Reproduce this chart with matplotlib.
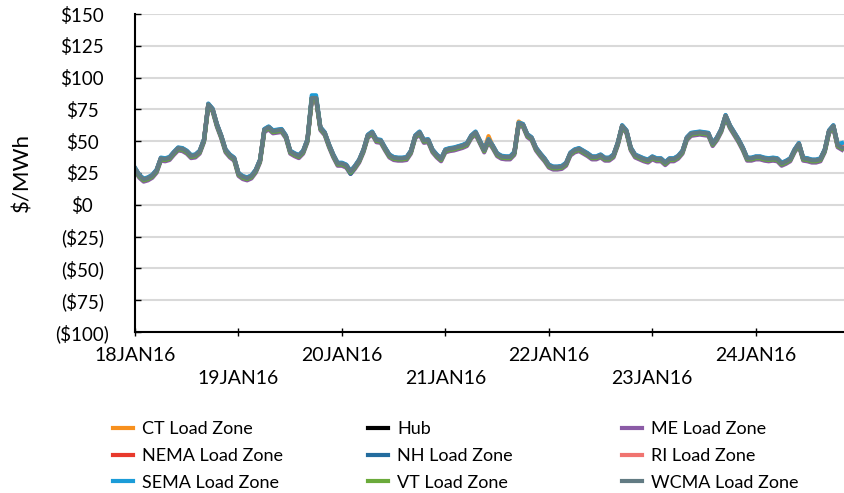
"""Hourly real-time LMPs by ISO-NE load zone, 18-24 Jan 2016."""
import matplotlib
matplotlib.use('Agg')
import matplotlib.pyplot as plt
from matplotlib.lines import Line2D

plt.rcParams['font.family'] = ['Lato', 'DejaVu Sans']

# hourly prices ($/MWh), hour 0 = 18JAN16 00:00
wcma = [28.5, 23, 20, 21, 23, 27, 36.5, 36, 37, 41, 44.5, 44, 42, 38.5, 39, 42,
        51, 79, 75, 63, 54, 43, 39, 36.5, 24.5, 22, 21, 22.5, 27, 35, 59, 61,
        58, 58.5, 59, 54, 42, 40, 38.5, 42, 51, 84, 84, 60.5, 56.5, 47, 39, 32.5,
        32.5, 31, 26, 30, 35, 43, 54.5, 57, 51, 50.5, 44.5, 39, 37, 36.5, 36.5, 37,
        42, 54, 57, 50.5, 51, 43, 39, 36, 43, 44, 44.5, 45.5, 46.5, 48, 54, 57,
        50, 43, 51, 46, 40, 38, 37.5, 37.5, 41, 64, 63, 55, 52.5, 44.5, 40, 36,
        31, 29.5, 29.5, 30, 32.5, 40.5, 43, 44, 42, 40, 37.5, 37.5, 39, 36.5, 36.5, 39,
        48.5, 62, 58, 44.5, 39, 37.5, 36, 35, 37.5, 36, 36, 33, 36, 36, 38, 42,
        52.5, 56, 56.5, 57, 56.5, 56, 48, 52.5, 59, 70, 62, 56.5, 51, 44.5, 36.5, 36.5,
        37.5, 37.5, 36.5, 36, 36.5, 36, 32.5, 34, 36, 43, 48, 36.5, 36, 35, 35, 36,
        43, 58, 62, 47, 45]

zones = ['CT Load Zone', 'Hub', 'ME Load Zone', 'NEMA Load Zone', 'NH Load Zone',
         'RI Load Zone', 'SEMA Load Zone', 'VT Load Zone', 'WCMA Load Zone']
colors = ['#F7901E', '#000000', '#8B5BA6', '#E8392C', '#236C9E',
          '#F07470', '#1B9CD8', '#6BAA3B', '#627B83']
# basis vs WCMA ($/MWh), plus a few hours where a zone pokes out of the bundle
basis = [0.0, -0.3, -1.8, 0.3, -0.6, 0.2, 0.6, -0.8, 0.0]
spikes = {
    'CT Load Zone': {82: 3.0, 89: 1.5},
    'SEMA Load Zone': {41: 1.5, 42: 1.5, 164: 3.0},
    'NH Load Zone': {50: -1.0},
    'RI Load Zone': {163: -1.0, 164: 2.0},
}

day_labels = ['18JAN16', '19JAN16', '20JAN16', '21JAN16', '22JAN16', '23JAN16', '24JAN16']

fig = plt.figure(figsize=(8.45, 4.93), dpi=100)
ax = fig.add_axes([0.1598, 0.3266, 0.8402, 0.645])

hours = list(range(len(wcma)))
for name, color, b in zip(zones, colors, basis):
    vals = [v + b for v in wcma]
    for h, d in spikes.get(name, {}).items():
        vals[h] += d
    ax.plot(hours, vals, color=color, lw=3, solid_joinstyle='round', label=name)

ax.set_xlim(0, 164.7)
ax.set_ylim(-100, 150)
ax.set_yticks(range(-100, 151, 25))
ax.set_yticklabels([f'${v}' if v >= 0 else f'(${-v})' for v in range(-100, 151, 25)],
                   ha='center')
ax.set_xticks([24 * i for i in range(len(day_labels))])
ax.set_xticklabels([lab if i % 2 == 0 else '\n' + lab for i, lab in enumerate(day_labels)],
                   linespacing=1.4)
ax.tick_params(axis='y', direction='in', length=4, width=1, labelsize=13.5, pad=38)
ax.tick_params(axis='x', direction='inout', length=6, width=1, labelsize=14, pad=8)
ax.grid(axis='y', color='#D9D9D9', lw=1.5)
ax.set_axisbelow(True)
for s in ['top', 'right']:
    ax.spines[s].set_visible(False)
for s in ['left', 'bottom']:
    ax.spines[s].set_linewidth(1.5)
ax.set_ylabel('$/MWh', fontsize=16)
ax.yaxis.set_label_coords(-0.144, 0.5)

handles = {n: Line2D([], [], color=c, lw=3) for n, c in zip(zones, colors)}
for col, x0 in enumerate([113, 368, 622]):
    names = zones[col::3]
    leg = fig.legend([handles[n] for n in names], names, loc='upper left',
                     bbox_to_anchor=(x0 / 845, 1 - 421 / 493), frameon=False,
                     fontsize=13, handlelength=1.1, handletextpad=0.5,
                     labelspacing=0.6, borderpad=0, borderaxespad=0)

fig.savefig('out.png', dpi=100)
